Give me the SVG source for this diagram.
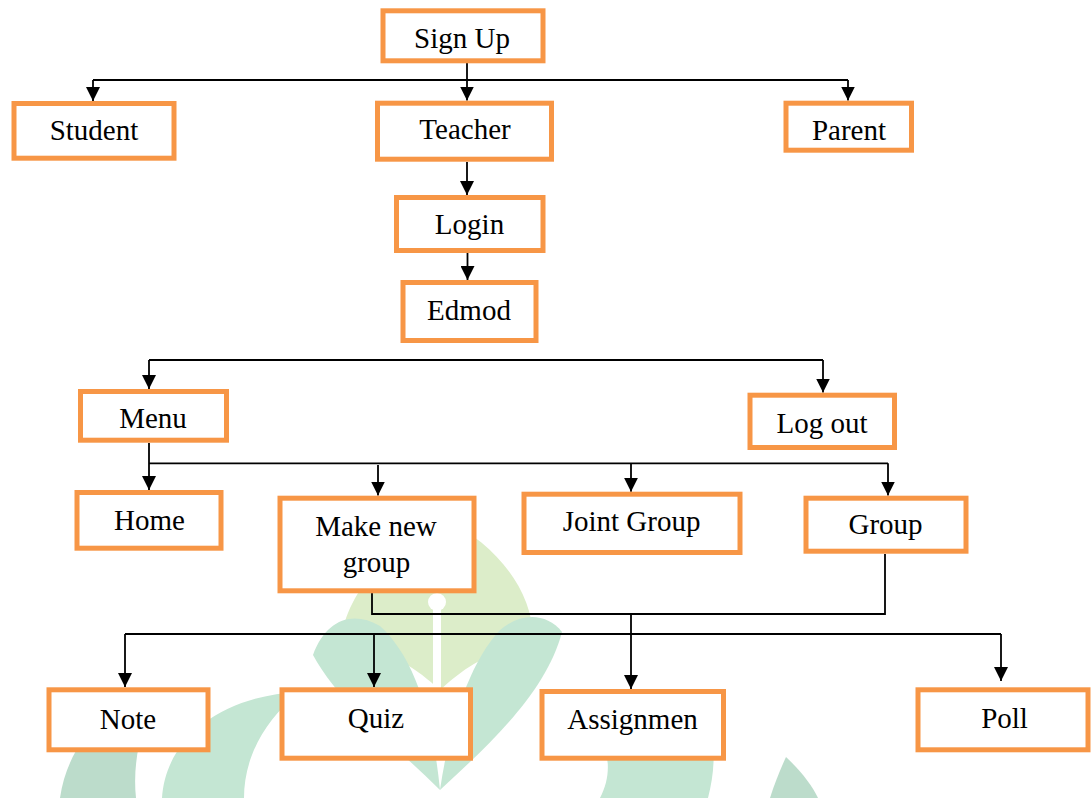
<svg xmlns="http://www.w3.org/2000/svg" width="1091" height="798" viewBox="0 0 1091 798">
<defs>
<style>
.box{fill:#ffffff;stroke:#f79646;stroke-width:5}
.lbl{font-family:"Liberation Serif","Times New Roman",serif;font-size:29px;fill:#000;text-anchor:middle}
.ln{fill:none;stroke:#000;stroke-width:1.8}
.ar{fill:none;stroke:#000;stroke-width:1.8;marker-end:url(#arrow)}
.wm1{fill:#dcedc9}
.wm2{fill:#c4e6d3}
.wm3{fill:#bcdccb}
</style>
<marker id="arrow" viewBox="0 0 14 14" refX="14" refY="7" markerWidth="14" markerHeight="14" markerUnits="userSpaceOnUse" orient="auto">
<path d="M0,0 L14,7 L0,14 Z" fill="#000"/>
</marker>
</defs>
<rect width="1091" height="798" fill="#ffffff"/>
<g id="watermark">
<path class="wm1" d="M445,520 C500,545 540,600 532,652 C500,644 468,664 440,690 C412,664 380,644 342,654 C336,600 390,545 445,520 Z"/>
<path class="wm2" d="M313,655 C326,620 352,610 380,626 C412,655 432,710 440,790 C392,742 340,705 313,655 Z"/>
<path class="wm2" d="M562,632 C546,612 520,613 500,630 C470,662 450,722 440,790 C492,742 546,692 562,632 Z"/>
<rect x="433" y="600" width="8" height="95" fill="#ffffff"/>
<circle cx="437" cy="602" r="9" fill="#ffffff"/>
<path class="wm3" d="M60,798 C68,742 108,702 160,692 C142,722 132,760 136,798 Z"/>
<path class="wm2" d="M162,798 C166,735 226,695 300,692 C262,722 244,760 244,798 Z"/>
<path class="wm2" d="M560,690 C620,690 680,700 710,730 C716,750 714,775 708,798 L600,798 C620,760 600,720 560,690 Z"/>
<path class="wm3" d="M786,757 C800,770 812,785 818,798 L770,798 C774,785 780,770 786,757 Z"/>
</g>
<g id="connectors">
<path class="ar" d="M467,63 V100.5"/>
<path class="ln" d="M93,80 H848"/>
<path class="ar" d="M93,80 V101"/>
<path class="ar" d="M848,80 V100.5"/>
<path class="ar" d="M467,162 V195"/>
<path class="ar" d="M467.5,253 V280"/>
<path class="ln" d="M149,360 H823"/>
<path class="ar" d="M149,360 V389"/>
<path class="ar" d="M823,360 V392.5"/>
<path class="ar" d="M149,443 V490"/>
<path class="ln" d="M149,463.3 H888"/>
<path class="ar" d="M378,465 V495.5"/>
<path class="ar" d="M631,463.3 V491.7"/>
<path class="ar" d="M888,463.3 V495.5"/>
<path class="ln" d="M372,593 V614 H885 V554"/>
<path class="ar" d="M631,614 V689"/>
<path class="ln" d="M125,634 H1001"/>
<path class="ar" d="M125,634 V687"/>
<path class="ar" d="M374,634 V687"/>
<path class="ar" d="M1001,634 V681"/>
</g>
<g id="signup"><rect class="box" x="383" y="10.8" width="160" height="50"/><text class="lbl" x="462" y="48.3">Sign Up</text></g>
<g id="student"><rect class="box" x="14" y="103.5" width="160" height="54.7"/><text class="lbl" x="94" y="140">Student</text></g>
<g id="teacher"><rect class="box" x="377.5" y="103.2" width="174" height="56"/><text class="lbl" x="465" y="139.3">Teacher</text></g>
<g id="parent"><rect class="box" x="786" y="103.2" width="125.5" height="47"/><text class="lbl" x="849" y="140">Parent</text></g>
<g id="login"><rect class="box" x="396.5" y="197.5" width="146.5" height="53"/><text class="lbl" x="469.5" y="234">Login</text></g>
<g id="edmod"><rect class="box" x="403" y="282.5" width="133" height="58"/><text class="lbl" x="469" y="320">Edmod</text></g>
<g id="menu"><rect class="box" x="80.5" y="391.5" width="146" height="48.7"/><text class="lbl" x="153" y="427.7">Menu</text></g>
<g id="logout"><rect class="box" x="750" y="395.2" width="144.5" height="52.3"/><text class="lbl" x="822" y="432.7">Log out</text></g>
<g id="home"><rect class="box" x="77" y="492.5" width="144" height="55.7"/><text class="lbl" x="149.5" y="530">Home</text></g>
<g id="makenewgroup"><rect class="box" x="280" y="498.2" width="194" height="92.6"/><text class="lbl" x="376" y="536">Make new</text><text class="lbl" x="376.5" y="571.7">group</text></g>
<g id="jointgroup"><rect class="box" x="524" y="494.2" width="216" height="58.3"/><text class="lbl" x="631.5" y="530.7">Joint Group</text></g>
<g id="group"><rect class="box" x="806" y="498.2" width="160" height="53"/><text class="lbl" x="885.5" y="534.3">Group</text></g>
<g id="note"><rect class="box" x="49" y="689.8" width="159" height="60"/><text class="lbl" x="128" y="729">Note</text></g>
<g id="quiz"><rect class="box" x="282" y="689.8" width="188.5" height="68.4"/><text class="lbl" x="376" y="728.3">Quiz</text></g>
<g id="assignmen"><rect class="box" x="542" y="691.5" width="181.5" height="66.7"/><text class="lbl" x="632.5" y="729.3">Assignmen</text></g>
<g id="poll"><rect class="box" x="918" y="689.8" width="170" height="60"/><text class="lbl" x="1004.5" y="728.3">Poll</text></g>
</svg>
